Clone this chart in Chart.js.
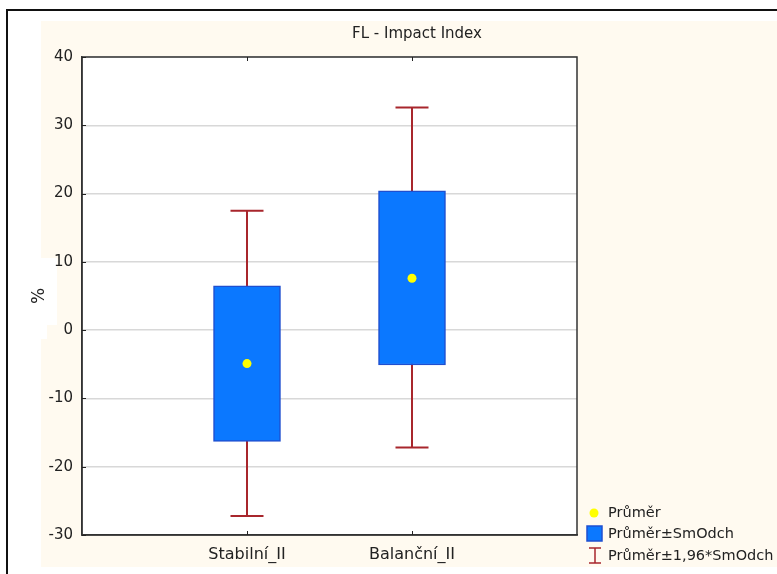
<!DOCTYPE html>
<html>
<head>
<meta charset="utf-8">
<title>FL - Impact Index</title>
<script src="https://cdn.jsdelivr.net/npm/chart.js@4.4.1/dist/chart.umd.min.js"></script>
<style>
  html, body { margin: 0; padding: 0; background: #ffffff; }
  canvas { display: block; }
</style>
</head>
<body>
<canvas id="chart" width="777" height="574"></canvas>
<script>
// Groups on the horizontal axis
const categories = ['Stabilní_II', 'Balanční_II'];
// Mean of each group (%)
const means = [-4.9, 7.6];
// Mean ± standard deviation (box)
const sdLow = [-16.3, -5.1];
const sdHigh = [6.5, 20.4];
// Mean ± 1.96 * standard deviation (whiskers)
const ciLow = [-27.2, -17.2];
const ciHigh = [17.5, 32.6];
// Value axis range and step
const yMin = -30;
const yMax = 40;
const yStep = 10;
// Legend entries
const legendLabels = ['Průměr', 'Průměr±SmOdch', 'Průměr±1,96*SmOdch'];
const chartTitle = 'FL - Impact Index';
const yTitle = '%';

const FONT = "'DejaVu Sans', 'Liberation Sans', sans-serif";
const TEXT = '#222222';
const BOX_FILL = '#0b78ff';
const BOX_EDGE = '#1f4fcf';
const WHISKER = '#a8262c';
const MEAN = '#ffff00';
const CAP = 0.1; // half width of whisker caps, in category units

// whisker segments (vertical stem plus two caps per group), broken by null points
const whiskerPoints = [];
categories.forEach((c, i) => {
  const x = i + 1;
  whiskerPoints.push(
    { x: x, y: ciLow[i] }, { x: x, y: ciHigh[i] }, { x: x, y: null },
    { x: x - CAP, y: ciHigh[i] }, { x: x + CAP, y: ciHigh[i] }, { x: x, y: null },
    { x: x - CAP, y: ciLow[i] }, { x: x + CAP, y: ciLow[i] }, { x: x, y: null }
  );
});

// background panel, frame and legend
const decorations = {
  id: 'decorations',
  beforeDraw(chart) {
    const ctx = chart.ctx;
    const W = chart.width, H = chart.height;
    const a = chart.chartArea;
    ctx.save();
    ctx.fillStyle = '#ffffff';
    ctx.fillRect(0, 0, W, H);
    ctx.fillStyle = '#fffaf0';
    ctx.fillRect(41, 21, W - 41, 546);
    // white backing behind the axis title
    ctx.fillStyle = '#ffffff';
    ctx.fillRect(41, 258, 16, 67);
    ctx.fillRect(41, 325, 6, 14);
    // outer window frame
    ctx.strokeStyle = '#111111';
    ctx.lineWidth = 2;
    ctx.beginPath();
    ctx.moveTo(7, H);
    ctx.lineTo(7, 10);
    ctx.lineTo(W, 10);
    ctx.stroke();
    // plot area
    ctx.fillStyle = '#ffffff';
    ctx.fillRect(a.left, a.top, a.right - a.left, a.bottom - a.top);
    ctx.restore();
  },
  beforeDatasetsDraw(chart) {
    const ctx = chart.ctx;
    const a = chart.chartArea;
    const xs = chart.scales.x, ys = chart.scales.y;
    ctx.save();
    ctx.strokeStyle = '#333333';
    ctx.lineWidth = 1.5;
    ctx.strokeRect(a.left, a.top, a.right - a.left, a.bottom - a.top);
    ctx.lineWidth = 1;
    ctx.strokeStyle = '#222222';
    ctx.beginPath();
    ys.ticks.forEach(t => {
      const y = Math.round(ys.getPixelForValue(t.value)) + 0.5;
      ctx.moveTo(a.left, y);
      ctx.lineTo(a.left + 4, y);
    });
    categories.forEach((c, i) => {
      const x = Math.round(xs.getPixelForValue(i + 1)) + 0.5;
      ctx.moveTo(x, a.bottom);
      ctx.lineTo(x, a.bottom - 4);
      ctx.moveTo(x, a.top);
      ctx.lineTo(x, a.top + 4);
    });
    ctx.stroke();
    ctx.restore();
  },
  afterDraw(chart) {
    const ctx = chart.ctx;
    ctx.save();
    // title
    ctx.fillStyle = TEXT;
    ctx.font = '15px ' + FONT;
    ctx.textAlign = 'center';
    ctx.textBaseline = 'middle';
    ctx.fillText(chartTitle, 417, 34);

    // legend
    ctx.font = '14.5px ' + FONT;
    ctx.textAlign = 'left';
    const tx = 608;
    // mean marker
    ctx.fillStyle = MEAN;
    ctx.beginPath();
    ctx.arc(594, 513, 4.5, 0, Math.PI * 2);
    ctx.fill();
    ctx.fillStyle = TEXT;
    ctx.fillText(legendLabels[0], tx, 513);
    // box
    ctx.fillStyle = BOX_FILL;
    ctx.fillRect(587, 526, 15, 15);
    ctx.strokeStyle = BOX_EDGE;
    ctx.lineWidth = 1.5;
    ctx.strokeRect(587, 526, 15, 15);
    ctx.fillStyle = TEXT;
    ctx.fillText(legendLabels[1], tx, 534);
    // whisker
    ctx.strokeStyle = WHISKER;
    ctx.lineWidth = 1.5;
    ctx.beginPath();
    ctx.moveTo(595, 548); ctx.lineTo(595, 563);
    ctx.moveTo(589, 548); ctx.lineTo(601, 548);
    ctx.moveTo(589, 563); ctx.lineTo(601, 563);
    ctx.stroke();
    ctx.fillStyle = TEXT;
    ctx.fillText(legendLabels[2], tx, 556);
    ctx.restore();
  }
};

new Chart(document.getElementById('chart'), {
  type: 'bar',
  data: {
    datasets: [
      {
        type: 'line',
        label: legendLabels[0],
        data: means.map((m, i) => ({ x: i + 1, y: m })),
        showLine: false,
        pointRadius: 4.5,
        pointHoverRadius: 4.5,
        pointBackgroundColor: MEAN,
        pointBorderWidth: 0,
        order: 1
      },
      {
        type: 'bar',
        label: legendLabels[1],
        data: categories.map((c, i) => ({ x: i + 1, y: [sdLow[i], sdHigh[i]] })),
        backgroundColor: BOX_FILL,
        borderColor: BOX_EDGE,
        borderWidth: 1.5,
        borderSkipped: false,
        barThickness: 67,
        order: 2
      },
      {
        type: 'line',
        label: legendLabels[2],
        data: whiskerPoints,
        borderColor: WHISKER,
        borderWidth: 2,
        pointRadius: 0,
        pointHoverRadius: 0,
        spanGaps: false,
        fill: false,
        order: 3
      }
    ]
  },
  options: {
    responsive: false,
    devicePixelRatio: 1,
    animation: false,
    events: [],
    layout: { padding: { left: 0, top: 57, right: 200, bottom: 0 } },
    plugins: {
      legend: { display: false },
      tooltip: { enabled: false },
      title: { display: false }
    },
    scales: {
      x: {
        type: 'linear',
        min: 0,
        max: categories.length + 1,
        offset: false,
        grid: { display: false, drawTicks: false },
        border: { display: true, color: '#333333', width: 1.5 },
        afterBuildTicks: s => { s.ticks = categories.map((c, i) => ({ value: i + 1 })); },
        afterFit: s => { s.height = 39; },
        ticks: {
          autoSkip: false,
          maxRotation: 0,
          padding: 10,
          color: TEXT,
          font: { family: FONT, size: 16 },
          callback: v => categories[v - 1] || ''
        }
      },
      y: {
        min: yMin,
        max: yMax,
        grid: { color: '#d8d8d8', lineWidth: 1.5, drawTicks: false },
        border: { display: true, color: '#333333', width: 1.5 },
        afterFit: s => { s.width = 82; },
        ticks: {
          stepSize: yStep,
          padding: 9,
          color: TEXT,
          font: { family: FONT, size: 15 }
        },
        title: {
          display: true,
          text: yTitle,
          color: TEXT,
          font: { family: FONT, size: 17 },
          padding: { top: 29, bottom: 0 }
        }
      }
    }
  },
  plugins: [decorations]
});
</script>
</body>
</html>
